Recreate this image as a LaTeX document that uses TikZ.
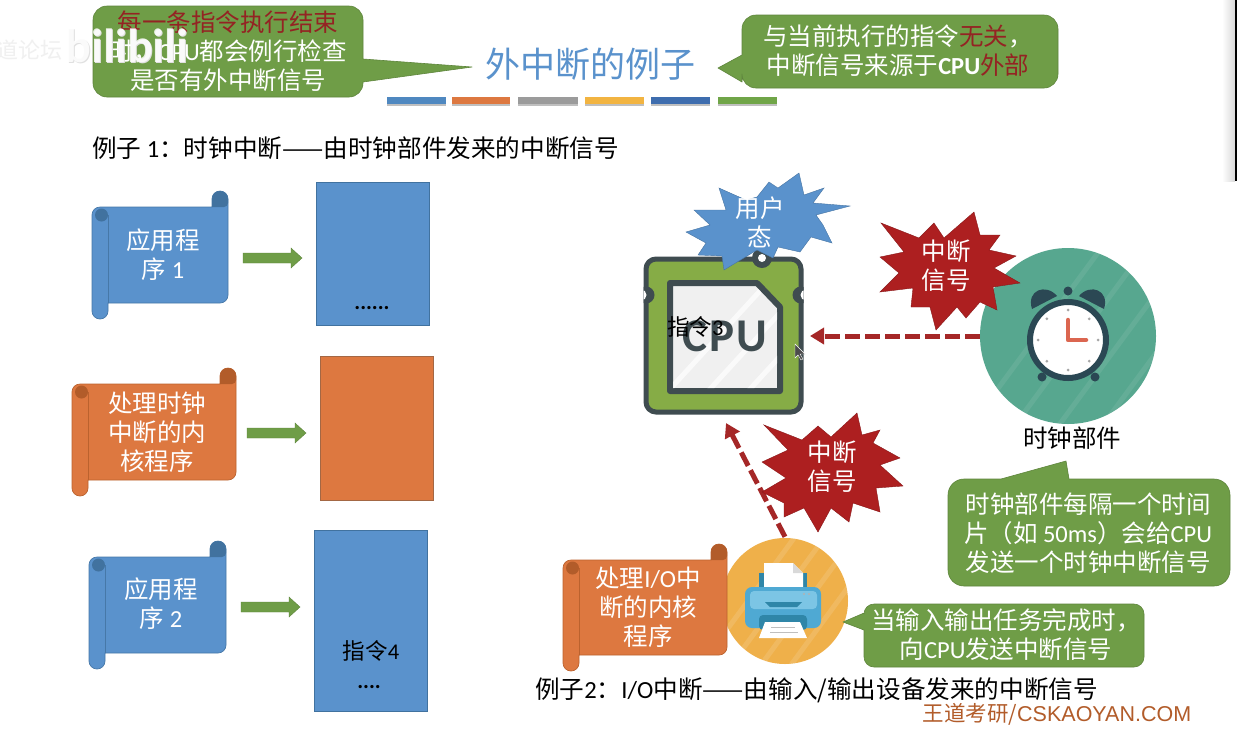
\documentclass[tikz,border=0pt]{standalone}
\usepackage{fontspec}
\setmainfont{Noto Sans CJK SC}
\newfontfamily\lat{Carlito}
\newfontfamily\web{Liberation Sans}
\usepackage{tikz}
\usetikzlibrary{arrows.meta,calc}
\definecolor{ablue}{HTML}{5A92CC}
\definecolor{dblue}{HTML}{41729F}
\definecolor{aorange}{HTML}{DD7840}
\definecolor{dorange}{HTML}{B25C2A}
\definecolor{agreen}{HTML}{6F9D47}
\definecolor{bred}{HTML}{AD1F20}
\definecolor{ared}{HTML}{A52727}
\definecolor{chipdark}{HTML}{3F4C50}
\definecolor{chipgreen}{HTML}{86AC46}
\definecolor{teal}{HTML}{57A78F}
\definecolor{clockdark}{HTML}{2B4854}
\definecolor{ayellow}{HTML}{EFB04A}
\definecolor{handred}{HTML}{DB6650}
\definecolor{prnbody}{HTML}{4FA9D3}
\definecolor{prnlight}{HTML}{7CC5E5}
\definecolor{prndark}{HTML}{2F86A8}
\tikzset{
  txt/.style={font=\fontsize{24.5}{29}\selectfont,align=center,inner sep=0pt},
  wtxt/.style={txt,text=white},
  callout/.style={fill=agreen,draw=agreen!85!black,line width=0.6pt,line join=round},
  sigarrow/.style={ared,line width=5pt,dash pattern=on 15pt off 5pt,-{Triangle[length=14pt,width=16pt]}},
  burst/.style={line join=miter,draw=#1!80!black,fill=#1,line width=0.4pt},
  stripe/.style={white,opacity=0.08,line width=5pt},
  bilitxt/.style={font=\fontsize{48}{48}\selectfont\lat\bfseries,inner sep=0pt}
}
% scroll: left, top, right, bottom, fill, dark
\newcommand{\scrollbox}[6]{
  \begin{scope}[shift={(#1,#2)}]
    \pgfmathsetmacro{\w}{#3-#1}
    \pgfmathsetmacro{\h}{#4-#2}
    \filldraw[fill=#5,draw=#6!80!#5,line width=0.7pt] (0,24) arc (180:270:8) -- (\w-16,16) -- (\w-16,8)
      arc (180:360:8) -- (\w,\h-24) arc (0:90:8) -- (16,\h-16) -- (16,\h-8) arc (0:180:8) -- cycle;
    \fill[#6] (\w-16,16) -- (\w-16,8) arc (180:360:8) -- (\w,12) arc (0:90:4) arc (90:270:3) -- (\w-4,16) -- cycle;
    \fill[#6] (9.5,24) circle (6.5);
    \draw[#6!80!#5,line width=0.7pt] (16,24) -- (16,\h-16);
  \end{scope}
}
% green block arrow: left end and mid height
\newcommand{\blockarrow}[2]{
  \fill[agreen,draw=agreen!85!black,line width=0.4pt] (#1,#2-5) -- (#1+48,#2-5) -- (#1+48,#2-10) -- (#1+59,#2) -- (#1+48,#2+10) -- (#1+48,#2+5) -- (#1,#2+5) -- cycle;
}
\begin{document}
\begin{tikzpicture}[x=1pt,y=-1pt]
  \useasboundingbox (0,0) rectangle (1237,729);
  \fill[white] (0,0) rectangle (1237,729);
  % screen edge
  \shade[left color=white,right color=black!15] (1222,0) rectangle (1235,181);
  \fill[black] (1235,0) rectangle (1237,181);
  % title and colour bars
  \node[font=\fontsize{35}{40}\selectfont,text=ablue,inner sep=0pt] (title) at (590,64) {外中断的例子};
  \foreach \xa/\xb/\c in {387/446/4F88C0,452/510/DD7840,518/578/9B9B9B,585/644/F2B441,651/710/3E6DAE,718/777/70A548}{
    \definecolor{barc}{HTML}{\c}
    \fill[black!25] (\xa,99) rectangle (\xb,106);
    \fill[barc] (\xa,97) rectangle (\xb,104);
  }
  % top callouts
  \filldraw[callout] (93,20) arc (180:270:14) -- (349,6) arc (270:360:14) -- (363,59) -- (472,67) -- (363,82) -- (363,83) arc (0:90:14) -- (107,97) arc (90:180:14) -- cycle;
  \node[txt,text=white] (checknote) at (228,51) {\textcolor{ared!90!black}{每一条指令执行结束}\\时，{\lat CPU}都会例行检查\\是否有外中断信号};
  \filldraw[callout] (742,29) arc (180:270:14) -- (1044,15) arc (270:360:14) -- (1058,74) arc (0:90:14) -- (756,88) arc (90:180:14) -- (742,82) -- (718,68) -- (742,55) -- cycle;
  \node[txt,text=white] (extnote) at (898,51) {与当前执行的指令\textcolor{ared!90!black}{无关}，\\中断信号来源于{\lat\bfseries CPU}\textcolor{ared!90!black}{外部}};
  % watermark
  \node[font=\fontsize{22}{22}\selectfont,text=black!6,inner sep=0pt] (siteghost) at (30,50) {道论坛};
  \node[bilitxt,text=black!12] (bilighost) at (128,47) {bilibili};
  \node[bilitxt,text=white,opacity=0.85] (bili) at (127,46) {bilibili};
  \node[txt,anchor=west,font=\fontsize{24.6}{29}\selectfont] (ex1) at (92,148) {例子 {\lat 1}：时钟中断——由时钟部件发来的中断信号};
  % left column
  \scrollbox{92}{191}{228}{319}{ablue}{dblue}
  \node[wtxt] (app1) at (163,255) {应用程\\序 {\lat 1}};
  \blockarrow{243}{258}
  \node[draw=dblue,fill=ablue,line width=0.6pt,minimum width=113pt,minimum height=143pt,inner sep=0pt] (mem1) at (372.5,253.5) {};
  \node[font=\fontsize{22}{22}\selectfont\lat\bfseries,inner sep=0pt] (dots1) at (372,308) {......};
  \scrollbox{72}{368}{236}{496}{aorange}{dorange}
  \node[wtxt] (clockkern) at (157,432) {处理时钟\\中断的内\\核程序};
  \blockarrow{247}{433}
  \node[draw=dorange!70!gray,fill=aorange,line width=0.6pt,minimum width=113pt,minimum height=144pt,inner sep=0pt] (mem2) at (376.5,428) {};
  \scrollbox{89}{541}{226}{669}{ablue}{dblue}
  \node[wtxt] (app2) at (161,604) {应用程\\序 {\lat 2}};
  \blockarrow{241}{607}
  \node[draw=dblue,fill=ablue,line width=0.6pt,minimum width=113pt,minimum height=181pt,inner sep=0pt] (mem3) at (370.5,620.5) {};
  \node[txt,font=\fontsize{22.5}{22}\selectfont] (instr4) at (371,651) {指令{\lat 4}};
  \node[font=\fontsize{22}{22}\selectfont\lat\bfseries,inner sep=0pt] (dots2) at (369,687) {....};
  % cpu chip
  \filldraw[fill=chipgreen,draw=chipdark,line width=5pt,rounded corners=10pt] (646,259) rectangle (801,412);
  \begin{scope}
    \clip (643.5,256.5) rectangle (803.5,414.5);
    \fill[chipdark] (646,295) circle (8.5); \fill[chipdark] (801,295) circle (8.5);
    \fill[white] (641,295) circle (5.5); \fill[white] (806,295) circle (5.5);
  \end{scope}
  \fill[chipdark] (762,258) circle (10);
  \filldraw[fill=black!6,draw=chipdark,line width=6pt,line join=round] (670,283) -- (757,283) -- (780,307) -- (780,391) -- (670,391) -- cycle;
  \begin{scope}
    \clip (673,286) -- (755,286) -- (777,309) -- (777,388) -- (673,388) -- cycle;
    \foreach \d in {0,40,...,160}{\draw[stripe,opacity=0.7] (660+\d,400) -- (660+\d+110,280);}
  \end{scope}
  \node[font=\fontsize{47}{47}\selectfont\lat\bfseries,text=chipdark,inner sep=0pt] (cpu) at (725,336) {C\kern2pt P\kern2pt U};
  \node[txt,font=\fontsize{22.5}{22}\selectfont,anchor=west] (instr3) at (667,327) {指令{\lat 3}};
  % user mode burst
  \filldraw[burst=ablue] (799,173) -- (804,195) -- (824,188) -- (813,203) -- (850,206) -- (816,215) -- (823,225) -- (832,243) -- (811,237) -- (800,252) -- (778,247) -- (773,258) -- (757,250) -- (724,270) -- (722,256) -- (698,255) -- (706,243) -- (686,232) -- (710,225) -- (694,210) -- (726,210) -- (719,188) -- (746,200) -- (757,197) -- (769,182) -- (778,188) -- cycle;
  \node[wtxt] (usermode) at (760,222) {用户\\态};
  \fill[white] (762,258) circle (4);
  % clock
  \node[circle,fill=teal,minimum size=176pt,inner sep=0pt] (clockcirc) at (1068,336) {};
  \begin{scope}
    \clip (1068,336) circle (88);
    \foreach \d in {0,44,...,264}{\draw[stripe] (960+\d,440) -- (960+\d+140,250);}
  \end{scope}
  \filldraw[fill=white,draw=clockdark,line width=6pt] (1068,340) circle (38);
  \fill[clockdark] (1032,309) .. controls (1026,290) and (1046,283) .. (1057,296) -- cycle;
  \fill[clockdark] (1104,309) .. controls (1110,290) and (1090,283) .. (1079,296) -- cycle;
  \fill[clockdark] (1068,291) circle (4.5);
  \fill[clockdark] (1042,377) circle (4.5);
  \fill[clockdark] (1095,377) circle (4.5);
  \foreach \a in {0,45,...,315}{\fill[black!35] ($(1068,340)+(\a:30)$) circle (1.5);}
  \draw[handred,line width=4.5pt,line cap=round,line join=round] (1068,320) -- (1068,340) -- (1086,340);
  \node[txt] (clocklbl) at (1072,438) {时钟部件};
  % clock interrupt burst
  \filldraw[burst=bred] (974,212) -- (980,235) -- (1000,235) -- (989,250) -- (1016,256) -- (994,268) -- (1020,283) -- (993,287) -- (997,310) -- (980,302) -- (966,318) -- (957,307) -- (936,330) -- (930,307) -- (911,307) -- (913,288) -- (880,292) -- (899,273) -- (880,257) -- (904,252) -- (881,223) -- (919,238) -- (934,223) -- (944,238) -- cycle;
  \node[wtxt] (sig1) at (946,266) {中断\\信号};
  \coordinate (cpuright) at (810,336);
  \draw[sigarrow] (clockcirc.west) -- (cpuright);
  % clock note
  \filldraw[callout] (948,495) arc (180:270:16) -- (1001,479) -- (1066,461) -- (1069,479) -- (1214,479) arc (270:360:16) -- (1230,570) arc (0:90:16) -- (964,586) arc (90:180:16) -- cycle;
  \node[txt,text=white] (clocknote) at (1088,533) {时钟部件每隔一个时间\\片（如 {\lat 50ms}）会给{\lat CPU}\\发送一个时钟中断信号};
  % printer
  \node[circle,fill=ayellow,minimum size=126pt,inner sep=0pt] (printer) at (785,601) {};
  \begin{scope}
    \clip (785,601) circle (63);
    \foreach \d in {0,30,...,210}{\draw[stripe,opacity=0.12] (690+\d,680) -- (690+\d+110,530);}
  \end{scope}
  \fill[prndark] (759,573) rectangle (807,592);
  \fill[white] (764,563) -- (793,563) -- (803,573) -- (803,592) -- (764,592) -- cycle;
  \fill[black!15] (793,563) -- (803,573) -- (793,573) -- cycle;
  \fill[prnbody,rounded corners=7pt] (745,587) rectangle (821,628);
  \fill[prnlight,rounded corners=4pt] (750,591) rectangle (817,609);
  \fill[prndark] (765,602) -- (802,602) -- (797,607) -- (770,607) -- cycle;
  \fill[prndark,rounded corners=4pt] (759,630) -- (759,615) -- (807,615) -- (807,630) -- cycle;
  \fill[white] (765,622) -- (800,622) -- (807,638) -- (759,638) -- cycle;
  \draw[black!25,line width=0.7pt] (771,627) -- (795,627) (770,632) -- (798,632);
  \fill[black!30] (804,594) circle (1.2) (809,594) circle (1.2);
  \coordinate (cpubottom) at (726,423);
  \draw[sigarrow] (printer.north) ++(0,-1) -- (cpubottom);
  % io interrupt burst
  \filldraw[burst=bred] (857,413) -- (862,435) -- (880,430) -- (873,443) -- (900,458) -- (880,465) -- (903,486) -- (876,488) -- (880,512) -- (853,503) -- (849,522) -- (831,508) -- (818,532) -- (804,508) -- (784,517) -- (784,503) -- (762,492) -- (786,478) -- (762,462) -- (788,450) -- (764,425) -- (802,440) -- (818,426) -- (831,437) -- cycle;
  \node[wtxt] (sig2) at (832,467) {中断\\信号};
  \scrollbox{563}{544}{727}{671}{aorange}{dorange}
  \node[wtxt] (iokern) at (648,607) {处理{\lat I/O}中\\断的内核\\程序};
  % printer note
  \filldraw[callout] (864,614) arc (180:270:10) -- (1134,604) arc (270:360:10) -- (1144,657) arc (0:90:10) -- (874,667) arc (90:180:10) -- (864,630) -- (843,622) -- (864,613) -- cycle;
  \node[txt,text=white] (ionote) at (1006,635) {当输入输出任务完成时，\\向{\lat CPU}发送中断信号};
  \node[txt,anchor=west,font=\fontsize{24.6}{29}\selectfont] (ex2) at (535,690) {例子{\lat 2}：{\lat I/O}中断——由输入/输出设备发来的中断信号};
  \node[font=\fontsize{21.5}{22}\selectfont,text=dorange,inner sep=0pt] (brand) at (1057,714) {王道考研/{\web CSKAOYAN.COM}};
  % mouse pointer
  \filldraw[fill=black!70,draw=white,line width=0.4pt] (795,344) -- (795,358) -- (798,355) -- (801,360) -- (803,359) -- (800,354) -- (805,354) -- cycle;
\end{tikzpicture}
\end{document}
